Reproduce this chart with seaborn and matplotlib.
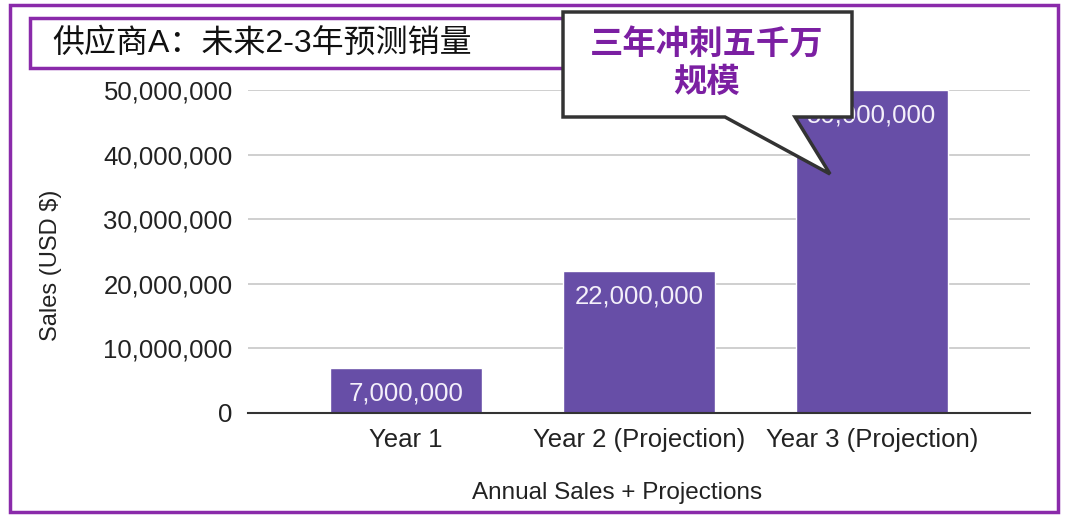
import pandas as pd
import seaborn as sns
import matplotlib.pyplot as plt
from matplotlib.patches import Rectangle, Polygon
from matplotlib.ticker import FuncFormatter

years = ["Year 1", "Year 2 (Projection)", "Year 3 (Projection)"]
sales = [7000000, 22000000, 50000000]
y_ticks = [0, 10000000, 20000000, 30000000, 40000000, 50000000]

title = "供应商A：未来2-3年预测销量"
callout = "三年冲刺五千万\n规模"
x_title = "Annual Sales + Projections"
y_title = "Sales (USD $)"

bar_color = "#674ea7"
frame_color = "#8a2aaa"
callout_color = "#7b1fa2"

sns.set_theme(style="white")
plt.rcParams["font.family"] = ["Liberation Sans", "Noto Sans CJK SC", "DejaVu Sans"]

W, H = 1080, 529
fig = plt.figure(figsize=(W / 100, H / 100), dpi=100)
fig.patch.set_facecolor("white")


def fx(px):
    return px / W


def fy(py):
    return 1 - py / H


ax = fig.add_axes([fx(248), fy(413), fx(1030 - 248), (413 - 90) / H])

df = pd.DataFrame({"year": years, "sales": sales})
sns.barplot(data=df, x="year", y="sales", color=bar_color, saturation=1,
            width=0.65, ax=ax)

ax.set_xlim(-0.678, 2.678)
ax.set_ylim(0, 50000000)
ax.set_yticks(y_ticks)
ax.yaxis.set_major_formatter(FuncFormatter(lambda v, p: "{:,.0f}".format(v)))
ax.yaxis.grid(True, color="#cccccc", lw=1.3)
ax.set_axisbelow(True)
for s in ["top", "right", "left"]:
    ax.spines[s].set_visible(False)
ax.spines["bottom"].set_color("#333333")
ax.spines["bottom"].set_linewidth(1.5)
ax.tick_params(axis="y", length=0, pad=11, labelsize=18.5, labelcolor="#222222")
ax.tick_params(axis="x", length=0, pad=11, labelsize=18.5, labelcolor="#222222")

ax.set_xlabel(x_title, fontsize=17.5, color="#222222")
ax.xaxis.set_label_coords((617 - 248) / 782, -0.215)
ax.set_ylabel(y_title, fontsize=17, color="#222222")
ax.yaxis.set_label_coords((62 - 248) / 782, 0.458)

# value labels inside bar tops
for i, v in enumerate(sales):
    ax.annotate("{:,}".format(v), (i, v), xytext=(0, -10), textcoords="offset points",
                ha="center", va="top", fontsize=18.5, color="#f4f0fa")

# outer frame
fig.patches.append(Rectangle((fx(10), fy(512)), fx(1058 - 10), (512 - 5) / H,
                             transform=fig.transFigure, fill=False,
                             edgecolor=frame_color, lw=2.5, zorder=3))
# title box
fig.patches.append(Rectangle((fx(30), fy(68)), fx(600 - 30), 50 / H,
                             transform=fig.transFigure, facecolor="white",
                             edgecolor=frame_color, lw=2.5, zorder=3))
fig.text(fx(52), fy(44), title, fontsize=23, color="#111111",
         ha="left", va="center", zorder=4)

# speech bubble
pts = [(563, 12), (852, 12), (852, 117), (795, 117), (830, 174), (725, 117), (563, 117)]
fig.patches.append(Polygon([(fx(a), fy(b)) for a, b in pts], closed=True,
                           transform=fig.transFigure, facecolor="white",
                           edgecolor="#333333", lw=2.5, zorder=5))
fig.text(fx(707), fy(64), callout, fontsize=24, fontweight="bold",
         color=callout_color, ha="center", va="center", linespacing=1.3, zorder=6)

fig.savefig("out.png", dpi=100)
